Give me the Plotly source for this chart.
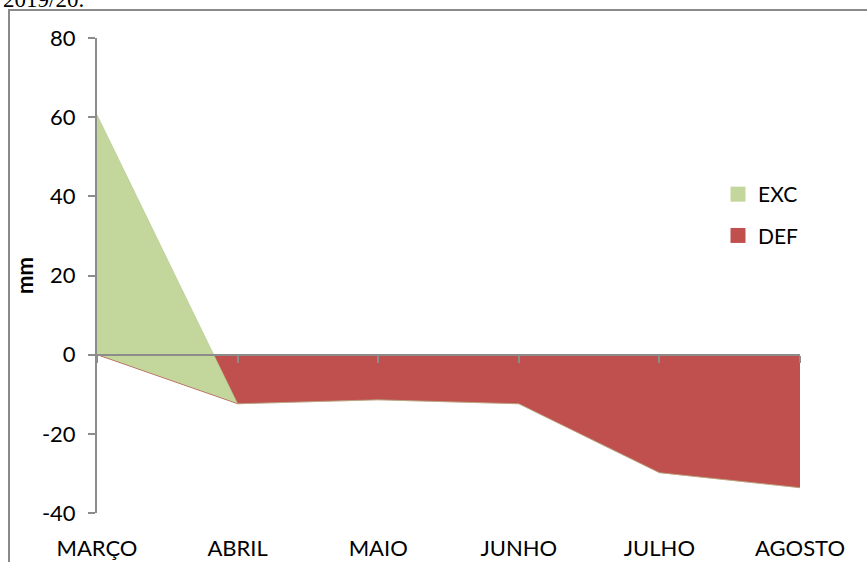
import plotly.graph_objects as go

months = ["MARÇO", "ABRIL", "MAIO", "JUNHO", "JULHO", "AGOSTO"]
deficit = [0, -12.4, -11.4, -12.4, -29.8, -33.6]
excess = [60.6, 0, 0, 0, 0, 0]
y_ticks = [-40, -20, 0, 20, 40, 60, 80]
y_tick_text = [str(v) for v in y_ticks]

W, H = 867, 562
L, R, T, B = 97, 67, 38, 49
pw, ph = W - L - R, H - T - B

def px_x(p):
    return (p - L) / pw

def px_y(p):
    return (H - B - p) / ph

font = "Lato, Carlito, 'Liberation Sans', sans-serif"
axis_grey = "#8c8c8c"
red = "#c0504d"
green = "#c3d69b"

fig = go.Figure()
fig.add_trace(go.Scatter(
    x=months, y=deficit, name="DEF", stackgroup="one", mode="lines",
    line=dict(width=0.6, color="#b04a47"), fillcolor=red,
    showlegend=False,
))
fig.add_trace(go.Scatter(
    x=months, y=excess, name="EXC", stackgroup="one", mode="lines",
    line=dict(width=0.6, color="#b4c98f"), fillcolor=green,
    showlegend=False,
))
# legend swatches (square markers, as in the reference)
fig.add_trace(go.Scatter(
    x=[None], y=[None], name="EXC", mode="markers", legendgroup="a",
    marker=dict(symbol="square", size=15, color=green), legendrank=1,
))
fig.add_trace(go.Scatter(
    x=[None], y=[None], name="DEF", mode="markers", legendgroup="b",
    marker=dict(symbol="square", size=15, color=red), legendrank=2,
))
# invisible trace for the zero axis with tick marks
fig.add_trace(go.Scatter(
    x=months, y=[0] * len(months), xaxis="x2", mode="lines",
    line=dict(width=0), showlegend=False, hoverinfo="skip",
))

fig.update_layout(
    width=W, height=H,
    margin=dict(l=L, r=R, t=T, b=B, autoexpand=False),
    paper_bgcolor="white", plot_bgcolor="white",
    font=dict(family=font, size=22, color="#000000"),
    showlegend=True,
    legend=dict(
        x=px_x(718), y=px_y(174), xanchor="left", yanchor="top",
        traceorder="grouped", tracegroupgap=11,
        font=dict(size=21, family=font), bgcolor="rgba(0,0,0,0)",
        itemwidth=30,
    ),
    xaxis=dict(
        type="category", range=[0, len(months) - 1], automargin=False,
        showline=False, showgrid=False, zeroline=False,
        ticks="", ticklabelstandoff=20,
        tickfont=dict(size=22, family=font),
    ),
    xaxis2=dict(
        type="category", range=[0, len(months) - 1], overlaying="x",
        anchor="free", position=40 / 120, side="bottom", automargin=False,
        showline=True, linecolor=axis_grey, linewidth=2,
        ticks="outside", ticklen=7, tickwidth=2, tickcolor=axis_grey,
        showticklabels=False, showgrid=False, zeroline=False,
    ),
    yaxis=dict(
        range=[-40, 80], tickvals=y_ticks, ticktext=y_tick_text, automargin=False,
        showline=True, linecolor=axis_grey, linewidth=2,
        ticks="outside", ticklen=7, tickwidth=2, tickcolor=axis_grey,
        ticklabelstandoff=8,
        showgrid=False, zeroline=False,
        tickfont=dict(size=22, family=font),
        title=dict(text="<b>mm</b>", font=dict(size=22, family=font), standoff=2),
    ),
    shapes=[dict(
        type="rect", xref="paper", yref="paper",
        x0=px_x(9), x1=px_x(900), y0=px_y(600), y1=px_y(10),
        line=dict(color="#8a8a8a", width=2), fillcolor="rgba(0,0,0,0)",
        layer="below",
    )],
    annotations=[dict(
        text="2019/20.", xref="paper", yref="paper",
        x=px_x(86), y=px_y(-1), xanchor="right", yanchor="middle",
        showarrow=False, font=dict(family="'Liberation Serif', serif", size=23, color="#000"),
    )],
)

fig.write_html("out.html")
